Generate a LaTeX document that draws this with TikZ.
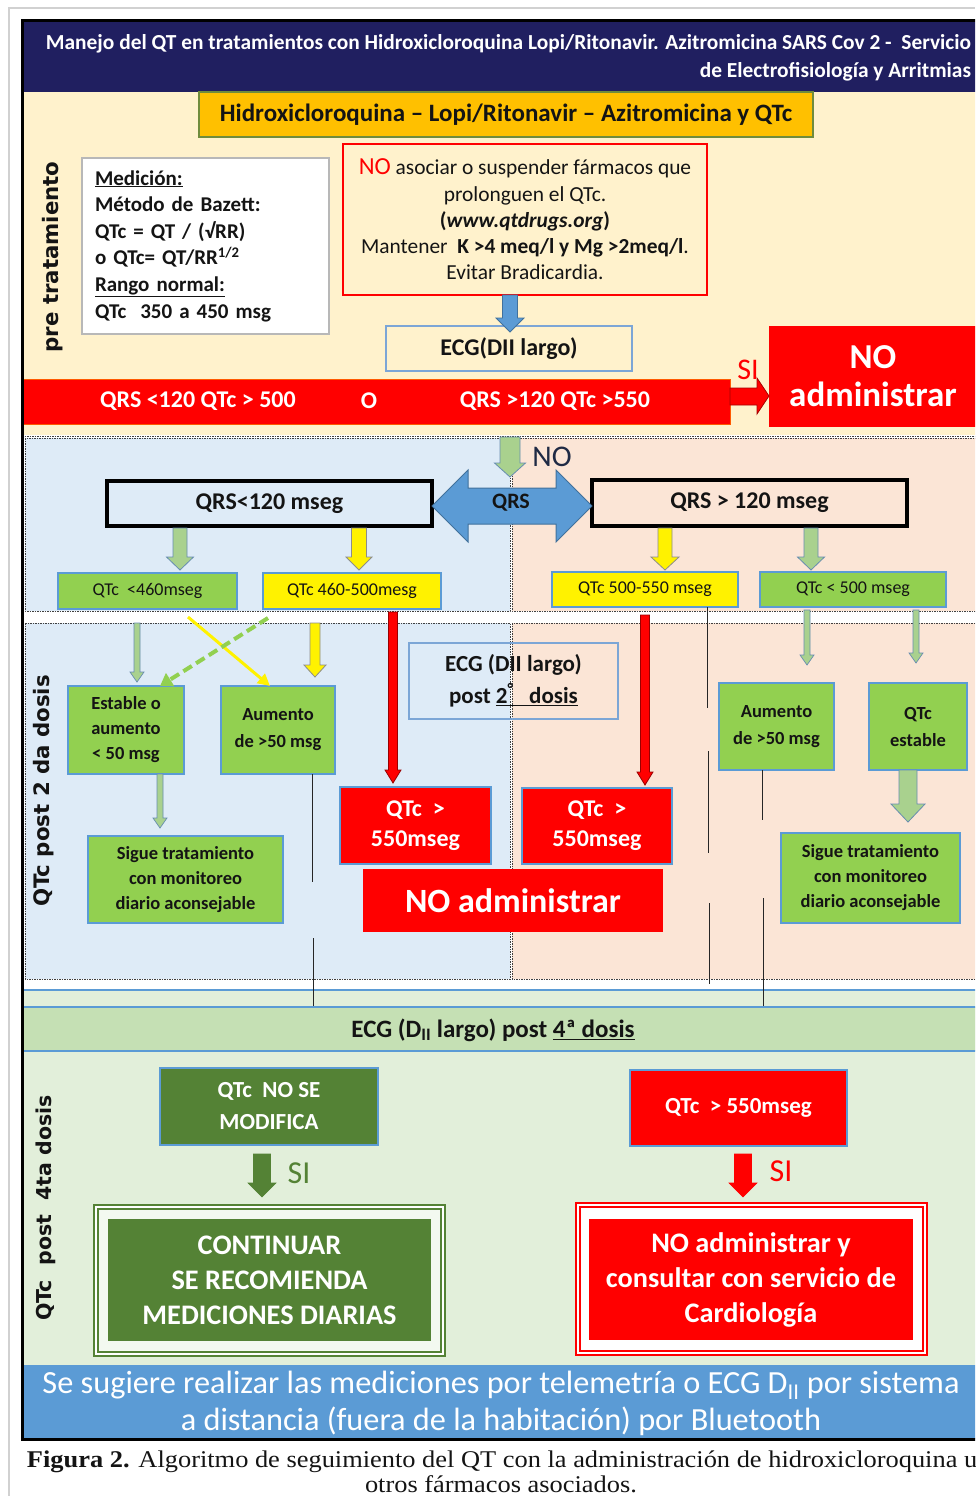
\documentclass[tikz,border=0pt]{standalone}
\usepackage{fontspec}
\setmainfont{Carlito}
\newfontfamily\labfont{DejaVu Sans}
\newfontfamily\capfont[FakeStretch=1.1]{Liberation Serif}
\usetikzlibrary{arrows.meta}
\definecolor{navy}{RGB}{32,31,96}
\definecolor{cream}{RGB}{255,242,204}
\definecolor{gold}{RGB}{255,192,0}
\definecolor{olive}{RGB}{112,140,60}
\definecolor{lblue}{RGB}{222,235,247}
\definecolor{peach}{RGB}{251,229,214}
\definecolor{lgreen}{RGB}{226,239,218}
\definecolor{bandgreen}{RGB}{197,224,180}
\definecolor{boxgreen}{RGB}{146,208,80}
\definecolor{arrgreen}{RGB}{169,209,142}
\definecolor{dkgreen}{RGB}{84,130,53}
\definecolor{mblue}{RGB}{91,155,213}
\definecolor{bblue}{RGB}{65,113,156}
\definecolor{lborder}{RGB}{124,166,214}
\definecolor{txt}{RGB}{20,20,20}
\definecolor{notxt}{RGB}{31,42,68}
\newcommand\fsz[2]{\fontsize{#1}{#2}\selectfont}
\newcommand\mybox[6]{\node[#1,minimum width={(#4)-(#2)},minimum height={(#5)-(#3)}] (#6) at ({((#2)+(#4))/2},{((#3)+(#5))/2})}
\newcommand\varrow[7]{\draw[#1] ({#2-#5},#3) -- ({#2+#5},#3) -- ({#2+#5},{#4-#7}) -- ({#2+#6},{#4-#7}) -- (#2,#4) -- ({#2-#6},{#4-#7}) -- ({#2-#5},{#4-#7}) -- cycle;}
\tikzset{
  every node/.style={inner sep=0pt, outer sep=0pt, align=center, text=txt},
  secline/.style={draw=black!75, line width=0.8pt, dash pattern=on 1.5pt off 1pt},
  thinb/.style={draw=mblue, line width=1.2pt},
  smallbox/.style={thinb, font=\fsz{18}{20}},
  gbox/.style={thinb, fill=boxgreen, font=\bfseries\fsz{18.5}{25}},
  rbox/.style={thinb, fill=red, text=white, font=\bfseries\fsz{24}{30}},
  qrsbox/.style={draw=black, line width=3.5pt, font=\bfseries\fsz{24}{24}},
  wtxt/.style={text=white, font=\bfseries\fsz{24}{24}},
  lab/.style={rotate=90, font=\labfont\bfseries\fsz{21.3}{24}},
  garr/.style={fill=arrgreen, draw=bblue!80, line width=0.8pt},
  yarr/.style={fill=yellow, draw=black!45, line width=0.8pt},
  rarr/.style={fill=red, draw=red!60!black, line width=0.8pt},
  conn/.style={draw=black!85, line width=0.9pt},
  connarr/.style={conn, -{Straight Barb[length=7pt,width=9pt]}}
}
\begin{document}
\begin{tikzpicture}[x=1pt,y=-1pt]
\useasboundingbox (0,0) rectangle (975,1496);
\clip (0,0) rectangle (975,1496);
\fill[white] (0,0) rectangle (975,1496);
\draw[black!18, line width=1.2pt] (9,1496) -- (9,8) -- (975,8);

% ---------- backgrounds ----------
\fill[navy] (22,22) rectangle (980,92);
\fill[cream] (22,92) rectangle (980,435);
\draw[secline] (22,436) -- (980,436);
\fill[lblue] (25,438) rectangle (510,611);
\draw[secline] (25,438) rectangle (510,611);
\fill[peach] (512,438) rectangle (985,611);
\draw[secline] (512,438) rectangle (985,611);
\fill[lblue] (25,623) rectangle (510,979);
\draw[secline] (25,623) rectangle (510,979);
\fill[peach] (512,623) rectangle (985,979);
\draw[secline] (512,623) rectangle (985,979);
\fill[lgreen] (22,990) rectangle (980,1365);
\draw[mblue, line width=1.5pt] (22,990) -- (980,990);
\fill[mblue] (22,1365) rectangle (980,1439);

% ---------- title ----------
\node[anchor=east, align=right, text=white, font=\bfseries\fsz{21.4}{28}] (title) at (971,58)
  {Manejo del QT en tratamientos con Hidroxicloroquina Lopi/Ritonavir. Azitromicina SARS Cov 2 -\ \ Servicio\\de Electrofisiología y Arritmias};

% ---------- pre tratamiento ----------
\mybox{draw=olive, line width=1.2pt, fill=gold, font=\bfseries\fsz{25}{26}}{199}{92}{813}{137}{hdr} {Hidroxicloroquina – Lopi/Ritonavir – Azitromicina y QTc};
\node[lab] (lab1) at (53,257) {pre tratamiento};
\mybox{draw=black!28, line width=1.5pt, fill=white, align=left, text width=221pt, font=\bfseries\fsz{21}{26.6}}{82}{158}{329}{334}{med}
  {\underline{Medición:}\\Método de Bazett:\\QTc = QT / (√RR)\\o QTc= QT/RR\textsuperscript{1/2}\\\underline{Rango normal:}\\QTc\ \ 350 a 450 msg};
\mybox{draw=red, line width=1.5pt, fill=cream, font=\fsz{21.4}{26.3}}{343}{144}{707}{295}{nob}
  {{\color{red}\fsz{24.5}{26.3}NO} asociar o suspender fármacos que\\prolonguen el QTc.\\\textbf{(\textit{www.qtdrugs.org})}\\Mantener\ \ \textbf{K >4 meq/l y Mg >2meq/l}.\\Evitar Bradicardia.};
\mybox{draw=lborder, line width=1.5pt, fill=cream, font=\bfseries\fsz{24}{26}}{386}{326}{632}{371}{ecgA} {ECG(DII largo)};
\varrow{fill=mblue, draw=bblue, line width=0.8pt}{510}{295}{332}{7.5}{14}{14}
\mybox{fill=red, draw=orange!70!red, line width=1pt}{22}{379}{730}{424}{band} {};
\node[wtxt] (bandL) at (198,401) {QRS <120 QTc > 500};
\node[wtxt] (bandO) at (369,401) {O};
\node[wtxt] (bandR) at (555,401) {QRS >120 QTc >550};
\mybox{fill=red}{769}{326}{978}{427}{noadm} {};
\node[text=white, font=\bfseries\fsz{35}{38}] (noadmT) at (873,376) {NO\\administrar};
\draw[fill=red, draw=red!65!black, line width=0.8pt] (band.east |- 0,388) -- (757,388) -- (757,378) -- (noadm.west |- 0,396) -- (757,414) -- (757,405) -- (band.east |- 0,405) -- cycle;
\node[text=red, font=\fsz{30}{30}] (si1) at (748,370) {SI};

% ---------- QRS branch ----------
\varrow{garr}{510}{437}{477}{10}{15.5}{14}
\node[text=notxt, font=\fsz{30}{30}] (notext) at (552,457) {NO};
\mybox{qrsbox, fill=lblue}{107}{481}{432}{526}{qrsL} {QRS<120 mseg};
\mybox{qrsbox, fill=peach}{592}{480}{907}{526}{qrsR} {QRS > 120 mseg};
\draw[fill=mblue, draw=bblue, line width=1pt] (qrsL.east |- 0,506) -- (468,470) -- (468,488) -- (556,488) -- (556,470) -- (qrsR.west |- 0,506) -- (556,542) -- (556,524) -- (468,524) -- (468,542) -- cycle;
\node[font=\bfseries\fsz{22}{22}] (qrs) at (511,503) {QRS};
\varrow{garr}{180}{528}{570}{7}{13.5}{13}
\varrow{yarr}{359}{528}{570}{7.5}{13}{13}
\varrow{yarr}{665}{528}{570}{7}{14}{13}
\varrow{garr}{811}{528}{570}{7}{13.5}{13}
\mybox{smallbox, fill=boxgreen}{58}{573}{237}{609}{qtcA} {QTc\ \ <460mseg};
\mybox{smallbox, fill=yellow}{263}{573}{441}{609}{qtcB} {QTc 460-500mesg};
\mybox{smallbox, fill=yellow}{552}{572}{738}{607}{qtcC} {QTc 500-550 mseg};
\mybox{smallbox, fill=boxgreen}{760}{572}{946}{607}{qtcD} {QTc < 500 mseg};

% ---------- QTc post 2 da dosis ----------
\node[lab] (lab2) at (44,791) {QTc post 2 da dosis};
\mybox{gbox}{68}{686}{184}{774}{estL} {Estable o\\aumento\\< 50 msg};
\mybox{gbox, font=\bfseries\fsz{18.5}{27}}{221}{686}{335}{774}{aumL} {Aumento\\de >50 msg};
\mybox{draw=lborder, line width=1.3pt, font=\bfseries\fsz{23}{32}}{409}{643}{618}{719}{ecgB} {ECG (DII largo)\\post \underline{2\textsuperscript{°}\ \ \ dosis}};
\mybox{gbox}{88}{836}{283}{923}{sigL} {Sigue tratamiento\\con monitoreo\\diario aconsejable};
\mybox{rbox}{340}{787}{491}{864}{qtcRL} {QTc\ \ >\\550mseg};
\mybox{rbox}{522}{788}{672}{864}{qtcRR} {QTc\ \ >\\550mseg};
\mybox{fill=red, text=white, font=\bfseries\fsz{34}{34}}{363}{869}{663}{932}{noadm2} {NO administrar};
\mybox{gbox, font=\bfseries\fsz{18.5}{27}}{719}{683}{834}{770}{aumR} {Aumento\\de >50 msg};
\mybox{gbox, font=\bfseries\fsz{18.5}{27}}{869}{683}{967}{770}{qest} {QTc\\estable};
\mybox{gbox}{781}{833}{960}{923}{sigR} {Sigue tratamiento\\con monitoreo\\diario aconsejable};

\varrow{garr, line width=0.7pt}{137}{623}{682}{3}{7}{10}
\draw[yellow, line width=3pt, -{Triangle[length=12pt,width=12pt]}] (188,617) -- (aumL.north -| 270,0);
\draw[boxgreen, line width=4pt, dash pattern=on 10pt off 5pt, -{Triangle[length=12pt,width=15pt]}] (268,618) -- (estL.north -| 160,0);
\varrow{yarr}{315}{623}{677}{5}{11}{12}
\varrow{rarr}{393}{612}{783}{4.5}{8}{13}
\varrow{garr, line width=0.7pt}{160}{774}{828}{3}{7}{10}
\varrow{rarr}{645}{615}{785}{4.5}{8}{13}
\varrow{garr, line width=0.7pt}{807}{610}{665}{3}{7}{10}
\varrow{garr, line width=0.7pt}{916}{610}{663}{3}{7}{10}
\varrow{garr}{908}{770}{822}{9}{17}{18}

% thin connectors (broken in the original)
\draw[conn] (aumL.south -| 312,0) -- (312,882);
\draw[connarr] (313,938) -- (313,1030);
\draw[conn] (qtcC.south -| 707,0) -- (707,708);
\draw[conn] (708,751) -- (708,853);
\draw[conn] (709,903) -- (709,984);
\draw[connarr] (709,1012) -- (709,1025);
\draw[conn] (aumR.south -| 762,0) -- (762,820);
\draw[connarr] (763,898) -- (763,1024);

% ---------- QTc post 4ta dosis ----------
\mybox{fill=bandgreen, draw=mblue, line width=1.8pt}{22}{1007}{985}{1051}{ecgC} {};
\node[font=\bfseries\fsz{25}{25}] (ecgCt) at (493,1030) {ECG (D\textsubscript{II} largo) post \underline{4ª dosis}};
\node[lab, font=\labfont\bfseries\fsz{20.5}{24}] (lab3) at (46,1208) {QTc\ \ post\ \ 4ta dosis};
\mybox{thinb, fill=dkgreen, text=white, font=\bfseries\fsz{23}{32}}{160}{1068}{378}{1145}{qnm} {QTc\ \ NO SE\\MODIFICA};
\mybox{thinb, fill=red, text=white, font=\bfseries\fsz{23}{32}}{630}{1070}{847}{1146}{q550} {QTc\ \ > 550mseg};
\varrow{fill=dkgreen, draw=dkgreen, line width=0.6pt}{262}{1154}{1197}{8.5}{14}{14}
\node[text=dkgreen, font=\fsz{32}{32}] (si2) at (299,1173) {SI};
\varrow{fill=red, draw=red, line width=0.6pt}{743}{1154}{1197}{8.5}{14}{14}
\node[text=red, font=\fsz{32}{32}] (si3) at (781,1171) {SI};
\mybox{draw=dkgreen, line width=1.6pt, double=white, double distance=2pt, fill=lgreen!40!white}{96}{1207}{443}{1354}{contO} {};
\mybox{fill=dkgreen, text=white, font=\bfseries\fsz{28.3}{35}}{108}{1219}{431}{1341}{cont} {CONTINUAR\\SE RECOMIENDA\\MEDICIONES DIARIAS};
\mybox{draw=red, line width=1.6pt, double=white, double distance=2pt, fill=white}{578}{1205}{925}{1353}{noCO} {};
\mybox{fill=red, text=white, font=\bfseries\fsz{28.3}{35}}{589}{1219}{913}{1340}{noC} {NO administrar y\\consultar con servicio de\\Cardiología};

% ---------- bottom band ----------
\node[text=white, font=\fsz{32.3}{37}] (tele) at (501,1403)
  {Se sugiere realizar las mediciones por telemetría o ECG D\textsubscript{II} por sistema\\a distancia (fuera de la habitación) por Bluetooth};

% ---------- frame ----------
\draw[black, line width=3pt] (985,21) -- (22,21) -- (22,1439) -- (985,1439);

% ---------- caption ----------
\node[anchor=west, font=\capfont\fsz{24}{26}] (cap1) at (27,1462) {\textbf{Figura 2.} Algoritmo de seguimiento del QT con la administración de hidroxicloroquina u};
\node[font=\capfont\fsz{24}{26}] (cap2) at (501,1484) {otros fármacos asociados.};
\end{tikzpicture}
\end{document}
